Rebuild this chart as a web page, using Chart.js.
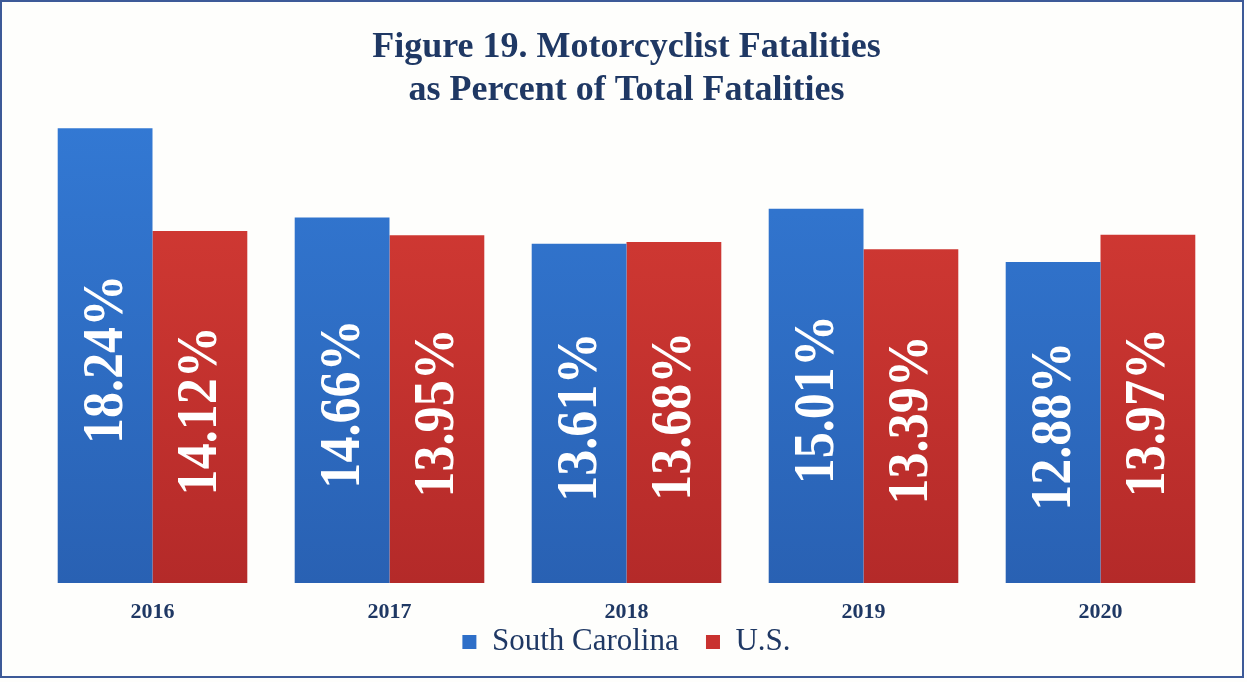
<!DOCTYPE html>
<html>
<head>
<meta charset="utf-8">
<script src="https://cdn.jsdelivr.net/npm/chart.js@4"></script>
<style>
  html, body { margin: 0; padding: 0; background: #fefefc; }
  #wrap { position: relative; width: 1247px; height: 682px; }
  #frame {
    position: absolute; left: 0; top: 0; width: 1240px; height: 674px;
    border: 2px solid #3d5a98; pointer-events: none;
  }
</style>
</head>
<body>
<div id="wrap">
  <canvas id="fatalChart" width="1247" height="682"></canvas>
  <div id="frame"></div>
</div>
<script>
// Data
const years = ['2016', '2017', '2018', '2019', '2020'];
const southCarolina = [18.24, 14.66, 13.61, 15.01, 12.88];
const unitedStates = [14.12, 13.95, 13.68, 13.39, 13.97];
const titleLines = ['Figure 19. Motorcyclist Fatalities', 'as Percent of Total Fatalities'];

const navy = '#1f3864';
const serif = '"Liberation Serif", "Times New Roman", serif';

// vertical gradient for each bar, lighter at the top
function barGradient(top, bottom) {
    return (ctx) => {
        const area = ctx.chart.chartArea;
        if (!area) return top;
        const g = ctx.chart.ctx.createLinearGradient(0, area.top, 0, area.bottom);
        g.addColorStop(0, top);
        g.addColorStop(1, bottom);
        return g;
    };
}

// white rotated value labels inside the bars
const barLabels = {
    id: 'barLabels',
    afterDatasetsDraw(chart) {
        const ctx = chart.ctx;
        chart.data.datasets.forEach((ds, i) => {
            const meta = chart.getDatasetMeta(i);
            meta.data.forEach((bar, j) => {
                const cy = (bar.y + bar.base) / 2;
                ctx.save();
                ctx.translate(bar.x, cy);
                ctx.rotate(-Math.PI / 2);
                ctx.scale(0.93, 1);
                ctx.font = 'bold 56px ' + serif;
                ctx.fillStyle = '#ffffff';
                ctx.textAlign = 'center';
                ctx.textBaseline = 'middle';
                ctx.fillText(ds.data[j].toFixed(2) + '%', -4, 2);
                ctx.restore();
            });
        });
    }
};

const chart = new Chart(document.getElementById('fatalChart'), {
    type: 'bar',
    data: {
        labels: years,
        datasets: [
            {
                label: 'South Carolina',
                data: southCarolina,
                backgroundColor: barGradient('#3379d4', '#2961b3'),
                categoryPercentage: 0.8,
                barPercentage: 1.0
            },
            {
                label: 'U.S.',
                data: unitedStates,
                backgroundColor: barGradient('#d73c35', '#b42a29'),
                categoryPercentage: 0.8,
                barPercentage: 1.0
            }
        ]
    },
    options: {
        responsive: false,
        animation: false,
        layout: {
            padding: { top: 26, left: 34, right: 28, bottom: 14.5 }
        },
        scales: {
            x: {
                grid: { display: false, drawTicks: false },
                border: { display: false },
                ticks: {
                    color: navy,
                    padding: 16,
                    font: { family: serif, size: 22, weight: 'bold' }
                },
                afterFit(scale) {
                    scale.height = 39.5;
                }
            },
            y: {
                display: false,
                min: 0,
                max: 18.8
            }
        },
        plugins: {
            title: {
                display: true,
                text: titleLines,
                color: navy,
                font: { family: serif, size: 36, weight: 'bold', lineHeight: 1.2 },
                padding: { top: 0, bottom: 2 }
            },
            legend: {
                position: 'bottom',
                labels: {
                    color: navy,
                    boxWidth: 14,
                    boxHeight: 14,
                    padding: 4,
                    font: { family: serif, size: 31 },
                    generateLabels(chart) {
                        const fills = ['#2e6fc8', '#c9322f'];
                        const last = chart.data.datasets.length - 1;
                        return chart.data.datasets.map((ds, i) => ({
                            // a little trailing space keeps the items apart
                            text: i < last ? ds.label + '   ' : ds.label,
                            fillStyle: fills[i],
                            strokeStyle: fills[i],
                            lineWidth: 0,
                            fontColor: navy,
                            datasetIndex: i
                        }));
                    }
                }
            },
            tooltip: { enabled: false }
        }
    },
    plugins: [barLabels]
});
</script>
</body>
</html>
